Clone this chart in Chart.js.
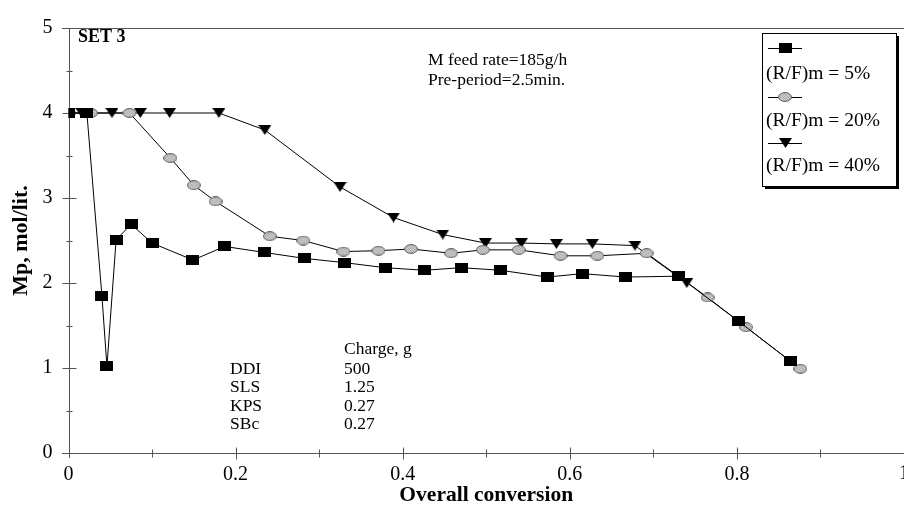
<!DOCTYPE html>
<html><head><meta charset="utf-8">
<script src="https://cdn.jsdelivr.net/npm/chart.js@4"></script>
<style>html,body{margin:0;padding:0;background:#fff;overflow:hidden}#wrap{width:904px;height:510px}</style>
</head><body><div id="wrap"><canvas id="c" width="904" height="510"></canvas></div>
<script>
const xTicks = [0, 0.2, 0.4, 0.6, 0.8, 1];
const yTicks = [0, 1, 2, 3, 4, 5];
const seriesNames = ['(R/F)m = 5%', '(R/F)m = 20%', '(R/F)m = 40%'];
const conv5 = [0, 0.022, 0.040, 0.046, 0.057, 0.075, 0.100, 0.149, 0.187, 0.234, 0.282, 0.330, 0.379, 0.426, 0.470, 0.517, 0.573, 0.615, 0.667, 0.730, 0.802, 0.864];
const mp5   = [4.00, 4.00, 1.85, 1.02, 2.51, 2.69, 2.47, 2.27, 2.43, 2.36, 2.29, 2.24, 2.18, 2.15, 2.18, 2.15, 2.07, 2.11, 2.07, 2.08, 1.55, 1.08];
const conv20 = [0, 0.027, 0.073, 0.122, 0.150, 0.176, 0.241, 0.281, 0.329, 0.371, 0.410, 0.458, 0.496, 0.539, 0.589, 0.633, 0.692, 0.765, 0.811, 0.876];
const mp20   = [4.00, 4.00, 4.00, 3.47, 3.15, 2.96, 2.55, 2.50, 2.37, 2.38, 2.40, 2.35, 2.39, 2.39, 2.32, 2.32, 2.35, 1.83, 1.48, 0.99];
const conv40 = [0, 0.016, 0.052, 0.086, 0.121, 0.180, 0.235, 0.325, 0.389, 0.448, 0.499, 0.542, 0.584, 0.627, 0.678, 0.740];
const mp40   = [4.00, 4.00, 4.00, 4.00, 4.00, 4.00, 3.80, 3.13, 2.77, 2.57, 2.47, 2.47, 2.46, 2.46, 2.44, 2.00];
const setLabel = 'SET 3';
const feedNotes = ['M feed rate=185g/h', 'Pre-period=2.5min.'];
const chargeHeader = 'Charge, g';
const chargeNames = ['DDI', 'SLS', 'KPS', 'SBc'];
const chargeValues = ['500', '1.25', '0.27', '0.27'];

const SERIF = "'Liberation Serif','Times New Roman',serif";

function mk(w, h, draw) { const c = document.createElement('canvas'); c.width = w; c.height = h; draw(c.getContext('2d'), w, h); return c; }
const sqImg = mk(13, 10, (g, w, h) => { g.fillStyle = '#000'; g.fillRect(0, 0, w, h); });
const elImg = mk(14, 10, (g, w, h) => {
  g.save();
  g.beginPath(); g.ellipse(w / 2, h / 2, w / 2 - 0.6, h / 2 - 0.6, 0, 0, Math.PI * 2);
  g.fillStyle = '#d6d6d6'; g.fill(); g.clip();
  g.strokeStyle = '#8a8a8a'; g.lineWidth = 0.8;
  for (let i = -h; i < w; i += 2.5) { g.beginPath(); g.moveTo(i, 0); g.lineTo(i + h, h); g.stroke(); }
  g.restore();
  g.beginPath(); g.ellipse(w / 2, h / 2, w / 2 - 0.6, h / 2 - 0.6, 0, 0, Math.PI * 2);
  g.strokeStyle = '#555'; g.lineWidth = 1; g.stroke();
});
const triImg = mk(13, 10, (g, w, h) => { g.beginPath(); g.moveTo(0, 0); g.lineTo(w, 0); g.lineTo(w / 2, h); g.closePath(); g.fillStyle = '#000'; g.fill(); });
const markerImgs = [sqImg, elImg, triImg];

function ds(label, xs, ys, img) {
  return { label, data: xs.map((x, i) => ({ x, y: ys[i] })), showLine: true, borderColor: '#000', borderWidth: 1,
    pointStyle: img, pointRadius: 6, pointHoverRadius: 6, tension: 0 };
}

const axesPlugin = {
  id: 'axesPlugin',
  beforeDatasetsDraw(chart) {
    const { ctx, chartArea: a, scales: { x, y } } = chart;
    ctx.save();
    ctx.strokeStyle = '#555'; ctx.lineWidth = 1;
    const ty = Math.round(y.getPixelForValue(5)) + 0.5;
    ctx.beginPath(); ctx.moveTo(62, ty); ctx.lineTo(904, ty); ctx.stroke();
    const ax = Math.round(x.getPixelForValue(0)) + 0.5;
    ctx.beginPath(); ctx.moveTo(ax, a.top); ctx.lineTo(ax, a.bottom + 5); ctx.stroke();
    const ay = Math.round(y.getPixelForValue(0)) + 0.5;
    ctx.beginPath(); ctx.moveTo(62, ay); ctx.lineTo(904, ay); ctx.stroke();
    for (let v = 0.5; v < 5; v += 0.5) {
      const py = Math.round(y.getPixelForValue(v)) + 0.5;
      const L = (Math.abs(v - Math.round(v)) < 1e-6) ? 7 : 3;
      ctx.beginPath(); ctx.moveTo(ax - L, py); ctx.lineTo(ax + L, py); ctx.stroke();
    }
    for (let v = 0.1; v < 1.0001; v += 0.1) {
      const px = Math.round(x.getPixelForValue(v)) + 0.5;
      const major = Math.abs(v * 5 - Math.round(v * 5)) < 1e-6;
      const L = major ? 6 : 4;
      ctx.beginPath(); ctx.moveTo(px, ay - L); ctx.lineTo(px, ay + L); ctx.stroke();
    }
    ctx.restore();
  },
  afterDraw(chart) {
    const { ctx, scales: { x } } = chart;
    ctx.save();
    ctx.fillStyle = '#000';
    ctx.textBaseline = 'middle';
    ctx.font = '20px ' + SERIF; ctx.textAlign = 'center';
    ctx.fillText(String(xTicks[xTicks.length - 1]), x.getPixelForValue(1), 474);
    ctx.textAlign = 'left';
    ctx.font = 'bold 18px ' + SERIF;
    ctx.fillText(setLabel, 78, 37);
    ctx.font = '17.5px ' + SERIF;
    ctx.fillText(feedNotes[0], 428, 60);
    ctx.fillText(feedNotes[1], 428, 80);
    ctx.fillText(chargeHeader, 344, 349);
    chargeNames.forEach((n, i) => {
      ctx.fillText(n, 230, 369 + i * 18.5);
      ctx.fillText(chargeValues[i], 344, 369 + i * 18.5);
    });
    const bx = 762, by = 33, bw = 134, bh = 153;
    ctx.fillStyle = '#000';
    ctx.fillRect(bx + 3, by + 3, bw, bh);
    ctx.fillStyle = '#fff';
    ctx.fillRect(bx, by, bw, bh);
    ctx.strokeStyle = '#000'; ctx.lineWidth = 1;
    ctx.strokeRect(bx + 0.5, by + 0.5, bw, bh);
    ctx.font = '19.5px ' + SERIF; ctx.fillStyle = '#000';
    const sy = [48, 97, 143], tyy = [74, 121, 166];
    seriesNames.forEach((n, i) => {
      ctx.beginPath(); ctx.moveTo(768, sy[i] + 0.5); ctx.lineTo(802, sy[i] + 0.5); ctx.strokeStyle = '#000'; ctx.stroke();
      const im = markerImgs[i];
      ctx.drawImage(im, Math.round(785 - im.width / 2), Math.round(sy[i] - im.height / 2));
      ctx.fillText(n, 766, tyy[i]);
    });
    ctx.restore();
  }
};

new Chart(document.getElementById('c'), {
  type: 'scatter',
  data: { datasets: [ds(seriesNames[0], conv5, mp5, sqImg), ds(seriesNames[1], conv20, mp20, elImg), ds(seriesNames[2], conv40, mp40, triImg)] },
  options: {
    responsive: false, animation: false, devicePixelRatio: 1,
    layout: { autoPadding: false, padding: { top: 24, left: 0, right: 0, bottom: 0 } },
    plugins: { legend: { display: false }, tooltip: { enabled: false } },
    scales: {
      x: {
        type: 'linear', min: 0, max: 1,
        afterBuildTicks: s => { s.ticks = xTicks.map(v => ({ value: v })); },
        ticks: { callback: v => (v === 1 ? '' : String(v)), font: { family: SERIF, size: 20 }, color: '#000', padding: 10, maxRotation: 0, autoSkip: false },
        grid: { display: false, drawTicks: false }, border: { display: false },
        title: { display: true, text: 'Overall conversion', font: { family: SERIF, size: 21.5, weight: 'bold' }, color: '#000', padding: { top: 0, bottom: 2 } },
        afterFit: s => { s.height = 57; s.paddingLeft = 0; s.paddingRight = 0; }
      },
      y: {
        type: 'linear', min: 0, max: 5,
        afterBuildTicks: s => { s.ticks = yTicks.map(v => ({ value: v })); },
        ticks: { callback: v => String(v), font: { family: SERIF, size: 20 }, color: '#000', padding: 16 },
        grid: { display: false, drawTicks: false }, border: { display: false },
        title: { display: true, text: 'Mp, mol/lit.', font: { family: SERIF, size: 22, weight: 'bold' }, color: '#000', padding: { top: 8, bottom: 0 } },
        afterFit: s => { s.width = 68.5; }
      }
    }
  },
  plugins: [axesPlugin]
});
</script></body></html>
